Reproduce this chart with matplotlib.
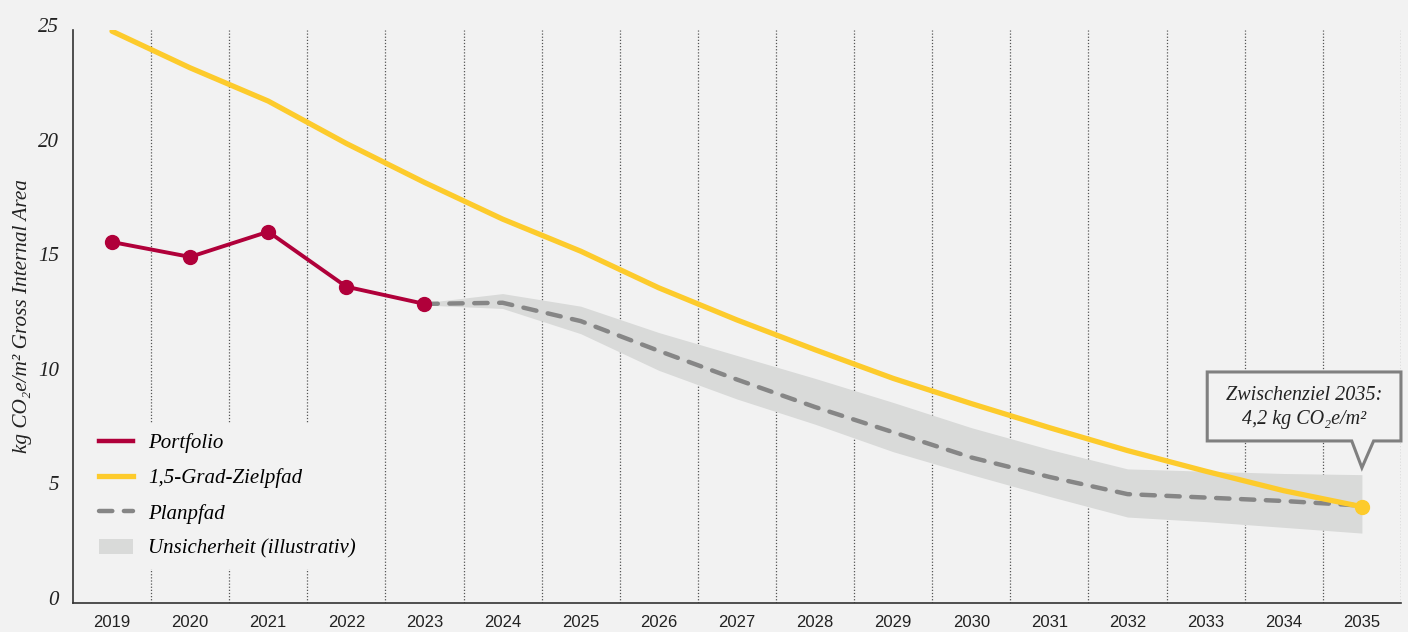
import numpy as np
import matplotlib
matplotlib.use('Agg')
import matplotlib.pyplot as plt
from matplotlib.patches import Polygon
from matplotlib.lines import Line2D
from matplotlib.patches import Patch
import matplotlib.transforms as mtransforms

# data
years = list(range(2019, 2036))
portfolio_years = [2019, 2020, 2021, 2022, 2023]
portfolio = [15.75, 15.1, 16.2, 13.8, 13.05]
ziel = [24.95, 23.35, 21.9, 20.05, 18.35, 16.75, 15.35, 13.75, 12.35, 11.05,
        9.8, 8.7, 7.65, 6.65, 5.75, 4.9, 4.2]
plan_years = list(range(2023, 2036))
plan = [13.05, 13.1, 12.3, 11.0, 9.75, 8.55, 7.45, 6.35, 5.5, 4.75, 4.6, 4.45, 4.25]
band_low = [13.0, 12.85, 11.75, 10.15, 8.9, 7.8, 6.6, 5.6, 4.65, 3.75, 3.55, 3.3, 3.05]
band_high = [13.1, 13.5, 12.95, 11.8, 10.8, 9.8, 8.75, 7.65, 6.7, 5.85, 5.75, 5.65, 5.6]
target_label = 'Zwischenziel 2035:\n4,2 kg CO₂e/m²'

BG = '#f2f2f2'
RED = '#b0003a'
YEL = '#fdcb2c'
GREY = '#868686'
BAND = '#d9dad9'
SERIF = ['Liberation Serif', 'DejaVu Serif']
SANS = ['Liberation Sans Narrow', 'Liberation Sans', 'DejaVu Sans']

fig = plt.figure(figsize=(14.08, 6.32), dpi=100, facecolor=BG)
ax = fig.add_axes([0.0518, 0.0459, 0.9432, 0.9066], facecolor=BG)

xi = {y: i for i, y in enumerate(years)}
px = [xi[y] for y in portfolio_years]
plx = [xi[y] for y in plan_years]
zx = [xi[y] for y in years]

for b in np.arange(0.5, len(years), 1.0):
    ax.axvline(b, color='#555555', lw=0.9, ls=(0, (1, 1.5)), zorder=1)

ax.fill_between(plx, band_low, band_high, color=BAND, lw=0, zorder=2)
ax.plot(plx, plan, color=GREY, lw=3.2, ls=(0, (3, 2.6)), dash_capstyle='round', zorder=3)
ax.plot(zx, ziel, color=YEL, lw=3.8, solid_capstyle='round', zorder=4)
ax.plot(zx[-1], ziel[-1], 'o', color=YEL, ms=10, zorder=5)
ax.plot(px, portfolio, color=RED, lw=2.8, marker='o', ms=10, zorder=6)

# callout box for the 2035 target
bx0, bx1, by0, by1 = 14.02, 16.5, 7.07, 10.08
tip_x, tip_y = xi[2035], 5.9
poly = Polygon([(bx0, by0), (bx0, by1), (bx1, by1), (bx1, by0), (16.15, by0),
                (tip_x, tip_y), (15.87, by0)], closed=True,
               facecolor=BG, edgecolor='#808080', lw=2.2, zorder=7, clip_on=False)
ax.add_patch(poly)
ax.text((bx0 + bx1) / 2, (by0 + by1) / 2 - 0.05, target_label, ha='center', va='center',
        family=SERIF, style='italic', fontsize=14.5, color='#222222',
        linespacing=1.35, zorder=8)

ax.set_xlim(-0.5, len(years) - 0.5)
ax.set_ylim(0, 25)
ax.set_xticks(zx)
ax.set_xticklabels([str(y) for y in years], family=SANS, fontsize=12, color='#222222')
ax.set_yticks([0, 5, 10, 15, 20, 25])
ax.set_yticklabels(['0', '5', '10', '15', '20', '25'], family=SERIF, style='italic',
                   fontsize=15, color='#222222')
ax.tick_params(axis='both', length=0)
ax.tick_params(axis='x', pad=9)
ax.tick_params(axis='y', pad=10)
off = mtransforms.ScaledTranslation(0, 5 / 100, fig.dpi_scale_trans)
for lbl in ax.get_yticklabels():
    lbl.set_transform(lbl.get_transform() + off)

for s in ['top', 'right']:
    ax.spines[s].set_visible(False)
for s in ['left', 'bottom']:
    ax.spines[s].set_color('#333333')
    ax.spines[s].set_linewidth(1.2)

ax.set_ylabel('kg CO₂e/m² Gross Internal Area', family=SERIF, style='italic',
              fontsize=15.3, color='#222222')
ax.yaxis.set_label_coords(-0.031, 0.5)

handles = [Line2D([], [], color=RED, lw=3.2),
           Line2D([], [], color=YEL, lw=3.8),
           Line2D([], [], color=GREY, lw=3.2, ls=(0, (3, 2.6)), dash_capstyle='round'),
           Patch(facecolor=BAND, edgecolor='none')]
labels = ['Portfolio', '1,5-Grad-Zielpfad', 'Planpfad', 'Unsicherheit (illustrativ)']
leg = ax.legend(handles, labels, loc='lower left', bbox_to_anchor=(0.004, 0.041),
                frameon=True, facecolor=BG, edgecolor='none', framealpha=1,
                handlelength=1.63, handletextpad=0.72, labelspacing=0.74,
                borderpad=0.5,
                prop={'family': SERIF, 'style': 'italic', 'size': 15})
leg.get_frame().set_boxstyle('square', pad=0)
leg.set_zorder(10)

fig.savefig('out.png', dpi=100, facecolor=BG)
